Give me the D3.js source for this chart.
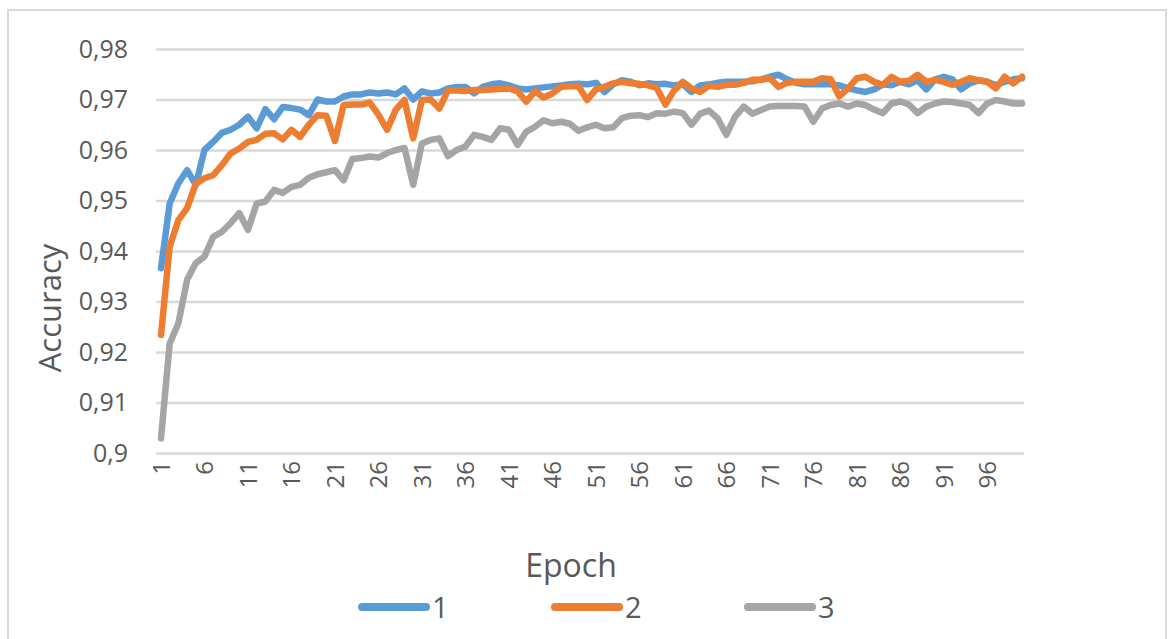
<!DOCTYPE html>
<html>
<head>
<meta charset="utf-8">
<script src="https://cdn.jsdelivr.net/npm/d3@7"></script>
<style>
  body { margin: 0; background: #fff; }
  svg text { font-family: "Open Sans", sans-serif; fill: #595959; }
</style>
</head>
<body>
<svg id="chart" width="1173" height="639"></svg>
<script>
// epochs 1..100
const epochs = d3.range(1, 101);

const seriesNames = ["1", "2", "3"];
const seriesColors = ["#5B9BD5", "#ED7D31", "#A5A5A5"];

const acc1 = [
  0.9366, 0.9494, 0.9534, 0.9560, 0.9531, 0.9600, 0.9616, 0.9634, 0.9640, 0.9650,
  0.9666, 0.9643, 0.9681, 0.9661, 0.9685, 0.9683, 0.9680, 0.9669, 0.9700, 0.9696,
  0.9696, 0.9706, 0.9710, 0.9710, 0.9714, 0.9712, 0.9714, 0.9710, 0.9722, 0.9700,
  0.9716, 0.9712, 0.9714, 0.9722, 0.9725, 0.9725, 0.9712, 0.9725, 0.9730, 0.9732,
  0.9728, 0.9722, 0.9720, 0.9722, 0.9724, 0.9726, 0.9728, 0.9730, 0.9731, 0.9730,
  0.9733, 0.9715, 0.9730, 0.9738, 0.9735, 0.9728, 0.9732, 0.9730, 0.9731, 0.9728,
  0.9730, 0.9715, 0.9728, 0.9730, 0.9733, 0.9735, 0.9735, 0.9735, 0.9736, 0.9740,
  0.9745, 0.9749, 0.9740, 0.9733, 0.9730, 0.9730, 0.9730, 0.9730, 0.9728, 0.9722,
  0.9718, 0.9715, 0.9720, 0.9730, 0.9728, 0.9735, 0.9730, 0.9738, 0.9720, 0.9740,
  0.9745, 0.9740, 0.9720, 0.9732, 0.9738, 0.9735, 0.9728, 0.9735, 0.9740, 0.9742
];

const acc2 = [
  0.9234, 0.9409, 0.9461, 0.9485, 0.9533, 0.9544, 0.9550, 0.9570, 0.9593, 0.9603,
  0.9616, 0.9620, 0.9632, 0.9633, 0.9621, 0.9640, 0.9626, 0.9650, 0.9669, 0.9668,
  0.9618, 0.9689, 0.9690, 0.9690, 0.9694, 0.9670, 0.9640, 0.9680, 0.9699, 0.9623,
  0.9699, 0.9700, 0.9682, 0.9718, 0.9718, 0.9717, 0.9719, 0.9719, 0.9720, 0.9721,
  0.9722, 0.9716, 0.9696, 0.9716, 0.9704, 0.9712, 0.9725, 0.9726, 0.9726, 0.9699,
  0.9720, 0.9725, 0.9732, 0.9735, 0.9732, 0.9731, 0.9728, 0.9723, 0.9690, 0.9718,
  0.9735, 0.9722, 0.9715, 0.9727, 0.9725, 0.9729, 0.9729, 0.9733, 0.9739, 0.9739,
  0.9742, 0.9725, 0.9733, 0.9735, 0.9735, 0.9735, 0.9742, 0.9740, 0.9706, 0.9722,
  0.9742, 0.9745, 0.9735, 0.9729, 0.9745, 0.9735, 0.9737, 0.9749, 0.9735, 0.9739,
  0.9735, 0.9729, 0.9735, 0.9742, 0.9738, 0.9735, 0.9722, 0.9745, 0.9732, 0.9745
];

const acc3 = [
  0.9029, 0.9217, 0.9257, 0.9343, 0.9376, 0.9389, 0.9428, 0.9438, 0.9455, 0.9475,
  0.9442, 0.9494, 0.9498, 0.9521, 0.9515, 0.9527, 0.9531, 0.9545, 0.9552, 0.9556,
  0.9560, 0.9540, 0.9582, 0.9584, 0.9587, 0.9585, 0.9594, 0.9600, 0.9604, 0.9531,
  0.9613, 0.9620, 0.9623, 0.9588, 0.9600, 0.9607, 0.9630, 0.9626, 0.9620, 0.9643,
  0.9640, 0.9610, 0.9636, 0.9646, 0.9659, 0.9653, 0.9656, 0.9652, 0.9638, 0.9645,
  0.9650, 0.9643, 0.9645, 0.9663, 0.9668, 0.9669, 0.9665, 0.9673, 0.9672, 0.9676,
  0.9673, 0.9650, 0.9672, 0.9678, 0.9663, 0.9630, 0.9666, 0.9686, 0.9672, 0.9679,
  0.9686, 0.9687, 0.9687, 0.9687, 0.9686, 0.9656, 0.9682, 0.9689, 0.9692, 0.9686,
  0.9692, 0.9689, 0.9680, 0.9673, 0.9692, 0.9696, 0.9690, 0.9673, 0.9686, 0.9692,
  0.9696, 0.9695, 0.9692, 0.9689, 0.9673, 0.9692, 0.9699, 0.9696, 0.9692, 0.9692
];

const yTicks = [0.9, 0.91, 0.92, 0.93, 0.94, 0.95, 0.96, 0.97, 0.98];
const xTicks = d3.range(1, 100, 5);

const series = [acc1, acc2, acc3];

const svg = d3.select("#chart");

// outer frame
svg.append("rect")
  .attr("x", 8).attr("y", 10)
  .attr("width", 1158).attr("height", 640)
  .attr("fill", "none")
  .attr("stroke", "#d9d9d9")
  .attr("stroke-width", 2);

const gridLeft = 156, gridRight = 1024;
const x = d3.scaleLinear([1, 100], [161, 1022]);
const y = d3.scaleLinear([0.9, 0.98], [453, 49]);

const comma = d3.formatLocale({decimal: ",", thousands: ".", grouping: [3], currency: ["", ""]});

// gridlines + y labels
const yAxis = svg.append("g")
  .attr("transform", `translate(${gridLeft},0)`)
  .call(d3.axisLeft(y).tickValues(yTicks).tickSize(-(gridRight - gridLeft)).tickPadding(28)
    .tickFormat(comma.format(".2~f")));
yAxis.select(".domain").remove();
yAxis.selectAll("line").attr("stroke", "#d9d9d9").attr("stroke-width", 2.5);
yAxis.selectAll("text").attr("font-size", 25).style("fill", "#595959");

// x labels
const xAxis = svg.append("g")
  .attr("transform", `translate(0,${y(0.9)})`)
  .call(d3.axisBottom(x).tickValues(xTicks).tickSize(0).tickFormat(d3.format("d")));
xAxis.select(".domain").remove();
xAxis.selectAll("text")
  .attr("font-size", 24)
  .attr("transform", "rotate(-90)")
  .attr("text-anchor", "end")
  .attr("x", -8)
  .attr("y", 0)
  .attr("dy", "0.35em")
  .style("fill", "#595959");

// lines
const line = d3.line().x((d, i) => x(epochs[i])).y(d => y(d));
svg.selectAll(".series")
  .data(series)
  .enter()
  .append("path")
  .attr("class", "series")
  .attr("d", d => line(d))
  .attr("fill", "none")
  .attr("stroke", (d, i) => seriesColors[i])
  .attr("stroke-width", 6.5)
  .attr("stroke-linejoin", "round")
  .attr("stroke-linecap", "round");

// axis titles
svg.append("text")
  .attr("transform", "translate(61,308) rotate(-90)")
  .attr("text-anchor", "middle")
  .attr("font-size", 31)
  .text("Accuracy");

svg.append("text")
  .attr("x", 571).attr("y", 577)
  .attr("text-anchor", "middle")
  .attr("font-size", 32)
  .text("Epoch");

// legend
const legendX = [362, 555, 748];
const legend = svg.selectAll(".leg")
  .data(seriesNames)
  .enter()
  .append("g")
  .attr("class", "leg")
  .attr("transform", (d, i) => `translate(${legendX[i]},607)`);
legend.append("line")
  .attr("x1", 0).attr("x2", 64)
  .attr("stroke", (d, i) => seriesColors[i])
  .attr("stroke-width", 8)
  .attr("stroke-linecap", "round");
legend.append("text")
  .attr("x", 70).attr("y", 11)
  .attr("font-size", 29)
  .text(d => d);
</script>
</body>
</html>
